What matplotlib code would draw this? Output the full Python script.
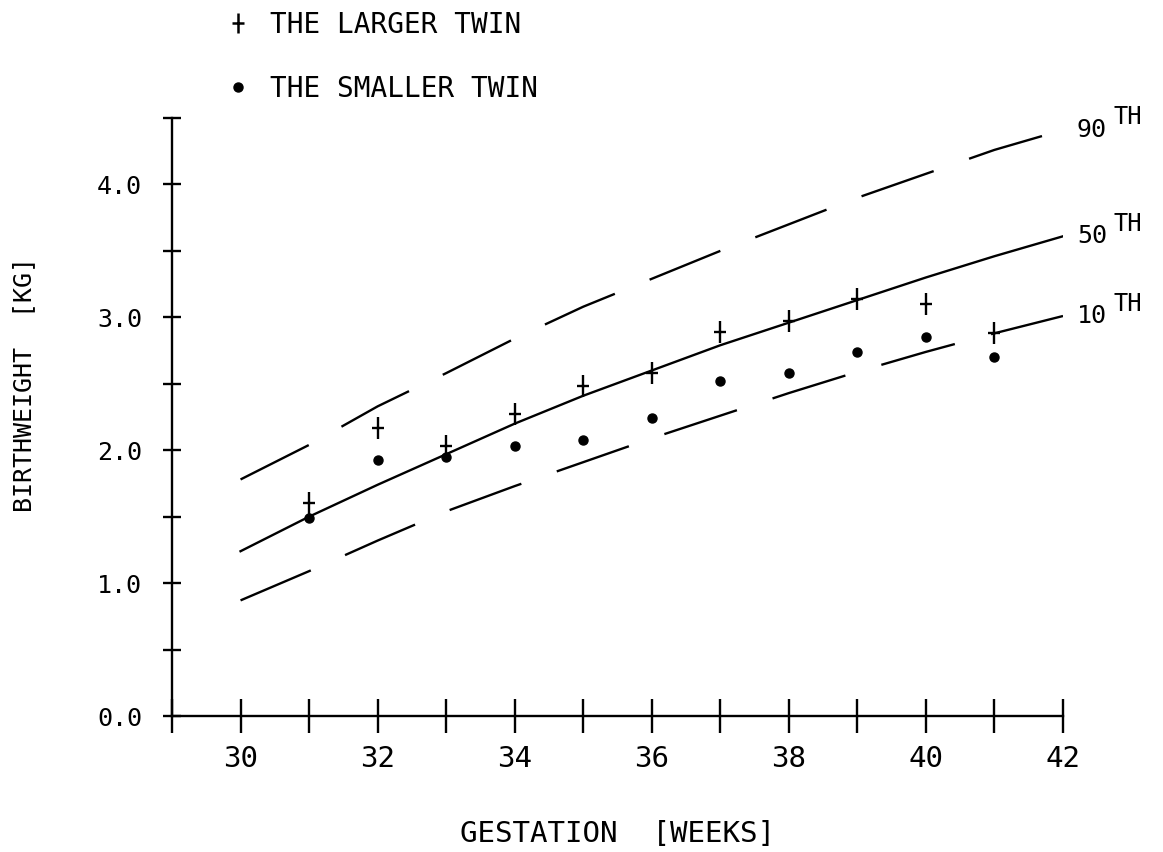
import numpy as np
import matplotlib
matplotlib.use('Agg')
from matplotlib import pyplot as plt
from matplotlib.path import Path
from matplotlib.lines import Line2D

# gestation weeks and twin birthweights (kg)
weeks = [31, 32, 33, 34, 35, 36, 37, 38, 39, 40, 41]
larger = [1.60, 2.17, 2.03, 2.27, 2.48, 2.58, 2.89, 2.97, 3.14, 3.10, 2.88]
smaller = [1.49, 1.93, 1.95, 2.03, 2.08, 2.24, 2.52, 2.58, 2.74, 2.85, 2.70]

# centile curves
cweeks = [30, 31, 32, 33, 34, 35, 36, 37, 38, 39, 40, 41, 42]
p90 = [1.78, 2.04, 2.33, 2.58, 2.84, 3.08, 3.29, 3.50, 3.70, 3.90, 4.08, 4.26, 4.41]
p50 = [1.24, 1.50, 1.74, 1.97, 2.20, 2.41, 2.60, 2.79, 2.96, 3.13, 3.30, 3.46, 3.61]
p10 = [0.87, 1.09, 1.32, 1.54, 1.73, 1.91, 2.09, 2.26, 2.43, 2.59, 2.74, 2.88, 3.01]

xticks = list(range(29, 43))
xlabels = ['' if w % 2 or w == 29 else str(w) for w in xticks]
yticks = [0.0, 1.0, 2.0, 3.0, 4.0]
yminor = [0.5, 1.5, 2.5, 3.5, 4.5]

plt.rcParams['font.family'] = ['DejaVu Sans Mono']
plt.rcParams['lines.scale_dashes'] = False

# tall plotter-style cross
cross = Path([(0, -1), (0, 1), (-0.55, 0), (0.55, 0)],
             [Path.MOVETO, Path.LINETO, Path.MOVETO, Path.LINETO])

fig = plt.figure(figsize=(11.63, 8.52), dpi=100)
ax = fig.add_axes([172/1163, 1-716/852, (1063-172)/1163, (716-118)/852])

dash = (0, (55, 27))
ax.plot(cweeks, p90, color='k', lw=1.7, ls=dash)
ax.plot(cweeks, p50, color='k', lw=1.7)
ax.plot(cweeks, p10, color='k', lw=1.7, ls=dash)

ax.plot(weeks, larger, ls='none', marker=cross, ms=16, mew=1.7, color='k')
ax.plot(weeks, smaller, ls='none', marker='o', ms=6.5, color='k')

for vals, name in [(p90, '90'), (p50, '50'), (p10, '10')]:
    ax.annotate(name, xy=(cweeks[-1], vals[-1]), xytext=(10, 0),
                textcoords='offset points', fontsize=18, va='center')
    ax.annotate('TH', xy=(cweeks[-1], vals[-1]), xytext=(36, 9),
                textcoords='offset points', fontsize=17, va='center')

ax.set_xlim(29, 42)
ax.set_ylim(0, 4.5)
ax.set_xticks(xticks)
ax.set_xticklabels(xlabels, fontsize=21)
ax.set_yticks(yticks)
ax.set_yticklabels(['%.1f' % v for v in yticks], fontsize=18)
ax.set_yticks(yminor, minor=True)
ax.tick_params(axis='x', direction='inout', length=24, width=1.7, pad=9)
ax.tick_params(axis='y', which='both', direction='inout', length=13, width=1.7, pad=15)
for s in ['top', 'right']:
    ax.spines[s].set_visible(False)
for s in ['left', 'bottom']:
    ax.spines[s].set_linewidth(1.7)

ax.set_xlabel('GESTATION  [WEEKS]', fontsize=21, labelpad=34)
ax.set_ylabel('BIRTHWEIGHT  [KG]', fontsize=18)
ax.yaxis.set_label_coords((36-172)/891, (716-385)/598)

handles = [Line2D([], [], ls='none', marker=cross, ms=15, mew=1.8, color='k'),
           Line2D([], [], ls='none', marker='o', ms=6.5, color='k')]
fig.legend(handles, ['THE LARGER TWIN', 'THE SMALLER TWIN'], loc='upper left',
           bbox_to_anchor=(199/1163, 1.017), frameon=False, fontsize=20,
           handlelength=1.0, handletextpad=0.65, labelspacing=1.3)

fig.savefig('out.png', dpi=100)
